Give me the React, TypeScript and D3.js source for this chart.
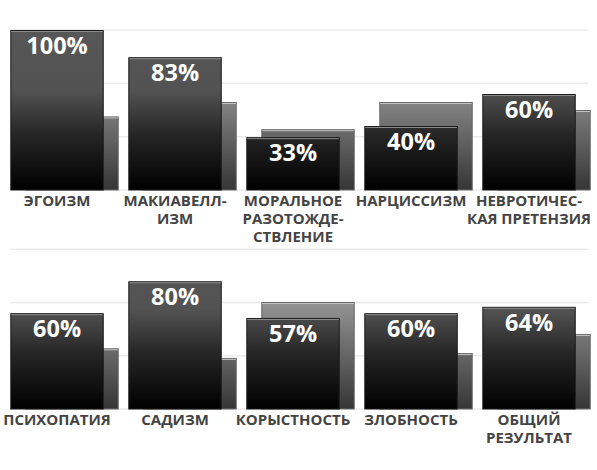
import React from 'react';
import * as d3 from 'd3';

const topLabels: string[][] = [
  ['ЭГОИЗМ'],
  ['МАКИАВЕЛЛ-', 'ИЗМ'],
  ['МОРАЛЬНОЕ', 'РАЗОТОЖДЕ-', 'СТВЛЕНИЕ'],
  ['НАРЦИССИЗМ'],
  ['НЕВРОТИЧЕС-', 'КАЯ ПРЕТЕНЗИЯ'],
];
const topValues = [100, 83, 33, 40, 60];
const topCompare = [46, 55, 38, 55, 50];

const bottomLabels: string[][] = [
  ['ПСИХОПАТИЯ'],
  ['САДИЗМ'],
  ['КОРЫСТНОСТЬ'],
  ['ЗЛОБНОСТЬ'],
  ['ОБЩИЙ', 'РЕЗУЛЬТАТ'],
];
const bottomValues = [60, 80, 57, 60, 64];
const bottomCompare = [38, 32, 67, 35, 47];

const gridTicks = [0, 33.3, 66.7, 100];

const WIDTH = 597;
const HEIGHT = 470;
const FONT = "'Open Sans', 'DejaVu Sans', sans-serif";

interface PanelProps {
  id: string;
  labels: string[][];
  values: number[];
  compare: number[];
  top: number;
  bottom: number;
}

const Panel: React.FC<PanelProps> = ({ id, labels, values, compare, top, bottom }) => {
  const x = d3.scaleBand<number>()
    .domain(d3.range(labels.length))
    .range([10.3, 600.3])
    .padding(0);
  const y = d3.scaleLinear().domain([0, 100]).range([bottom, top]);

  const bw = x.bandwidth();
  const barW = bw * 0.792;
  const shift = bw * 0.127;

  return (
    <g>
      <defs>
        <linearGradient id={`main-${id}`} gradientUnits="userSpaceOnUse" x1={0} x2={0} y1={y(100)} y2={y(0)}>
          <stop offset="0" stopColor="#575757" />
          <stop offset="0.38" stopColor="#525252" />
          <stop offset="0.65" stopColor="#262626" />
          <stop offset="1" stopColor="#000000" />
        </linearGradient>
        <linearGradient id={`cmp-${id}`} gradientUnits="userSpaceOnUse" x1={0} x2={0} y1={y(100)} y2={y(0)}>
          <stop offset="0" stopColor="#c4c4c4" />
          <stop offset="1" stopColor="#353535" />
        </linearGradient>
      </defs>

      {/* gridlines */}
      {gridTicks.map(t => (
        <line key={t} x1={10} x2={588} y1={y(t)} y2={y(t)} stroke="#ebebeb" strokeWidth={1.5} />
      ))}

      {labels.map((lines, i) => {
        const x0 = x(i)!;
        const cx = x0 + barW / 2;
        const yMain = y(values[i]);
        const yCmp = y(compare[i]);
        return (
          <g key={i}>
            {/* comparison bar, behind */}
            <rect x={x0 + shift + 0.5} y={yCmp + 0.5} width={barW - 1} height={y(0) - yCmp - 0.5}
              fill={`url(#cmp-${id})`} stroke="#6a6a6a" strokeWidth={1} />
            <line x1={x0 + shift + 1} x2={x0 + shift + barW - 1} y1={yCmp + 1.5} y2={yCmp + 1.5}
              stroke="#c2c2c2" strokeWidth={1} />

            {/* main bar */}
            <rect x={x0 + 0.5} y={yMain + 0.5} width={barW - 1} height={y(0) - yMain - 0.5}
              fill={`url(#main-${id})`} stroke="#1c1c1c" strokeWidth={1} />
            <line x1={x0 + 1} x2={x0 + barW - 1} y1={yMain + 1.5} y2={yMain + 1.5}
              stroke="#8a8a8a" strokeWidth={1} />

            <text x={cx} y={yMain + 24} textAnchor="middle" fill="#ffffff"
              fontFamily={FONT} fontWeight={700} fontSize={23.5}>
              {values[i]}%
            </text>

            <text x={cx} y={y(0) + 16} textAnchor="middle" fill="#444444"
              fontFamily={FONT} fontWeight={700} fontSize={15}>
              {lines.map((ln, k) => (
                <tspan key={k} x={cx} dy={k === 0 ? 0 : 18}>{ln}</tspan>
              ))}
            </text>
          </g>
        );
      })}
    </g>
  );
};

export default function App() {
  return (
    <svg width={WIDTH} height={HEIGHT} viewBox={`0 0 ${WIDTH} ${HEIGHT}`}
      style={{ position: 'absolute', left: 0, top: 0, background: '#ffffff' }}>
      <Panel id="top" labels={topLabels} values={topValues} compare={topCompare} top={30} bottom={190} />
      <Panel id="bottom" labels={bottomLabels} values={bottomValues} compare={bottomCompare} top={249.3} bottom={409} />
    </svg>
  );
}
